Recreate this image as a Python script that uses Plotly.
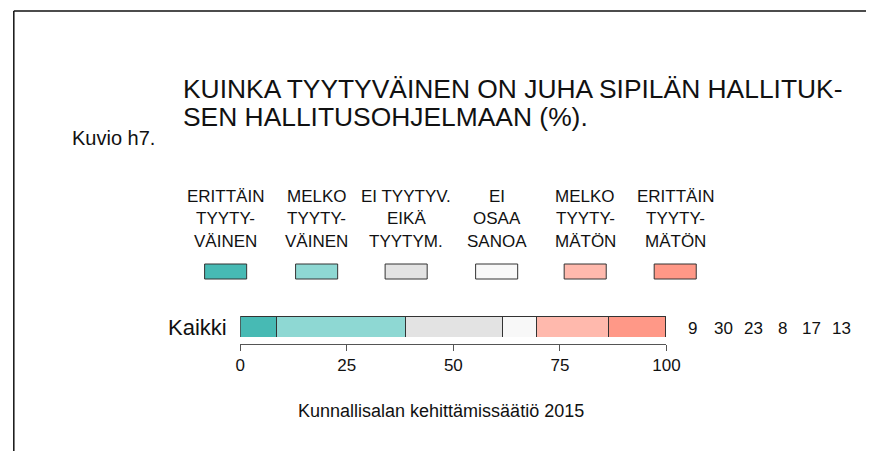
import plotly.graph_objects as go

W, H = 880, 451

categories = ["ERITTÄIN|TYYTY-|VÄINEN", "MELKO|TYYTY-|VÄINEN", "EI TYYTYV.|EIKÄ|TYYTYM.",
              "EI|OSAA|SANOA", "MELKO|TYYTY-|MÄTÖN", "ERITTÄIN|TYYTY-|MÄTÖN"]
values = [8.6, 30.1, 22.9, 7.9, 16.9, 13.3]
value_labels = ["9", "30", "23", "8", "17", "13"]
colors = ["#47BAB4", "#8ED8D3", "#E3E3E3", "#F8F8F8", "#FFB9AD", "#FF9887"]
row_label = "Kaikki"
tick_vals = [0, 25, 50, 75, 100]
title_lines = ["KUINKA TYYTYVÄINEN ON JUHA SIPILÄN HALLITUK-", "SEN HALLITUSOHJELMAAN (%)."]
figure_no = "Kuvio h7."
source = "Kunnallisalan kehittämissäätiö 2015"

FONT = "Liberation Sans, Arial, Helvetica, sans-serif"
TXT = "#111111"

def px(x):
    return x / W

def py(y):
    return 1 - y / H

fig = go.Figure()
for cat, v, c in zip(categories, values, colors):
    fig.add_trace(go.Bar(
        x=[v], y=[0], orientation="h", width=1,
        marker=dict(color=c, line=dict(color="#333333", width=1)),
        name=cat.replace("|", " "), showlegend=False, hoverinfo="x",
    ))

fig.update_layout(
    barmode="stack",
    width=W, height=H, autosize=False,
    margin=dict(l=0, r=0, t=0, b=0, pad=0),
    paper_bgcolor="white", plot_bgcolor="white",
    xaxis=dict(domain=[px(240.5), px(676)], range=[0, 100], anchor="free", position=py(344),
               showgrid=False, zeroline=False, showline=True, linecolor="#555555", linewidth=1,
               ticks="outside", ticklen=6, tickcolor="#555555", tickvals=tick_vals,
               ticktext=[str(t) for t in tick_vals],
               tickfont=dict(family=FONT, size=17, color=TXT)),
    yaxis=dict(domain=[py(337), py(316)], range=[-0.5, 0.5], visible=False, fixedrange=True),
)

ann = []
ann.append(dict(x=px(66), y=py(138), text=figure_no, xanchor="left", yanchor="middle",
                font=dict(family=FONT, size=20, color=TXT)))
for i, line in enumerate(title_lines):
    ann.append(dict(x=px(180), y=py(89 + 28 * i), text=line, xanchor="left", yanchor="middle",
                    font=dict(family=FONT, size=26.4, color=TXT)))
centers = [225.5, 318.5, 410, 502.5, 593, 685]
shapes = []
for cx, cat, c in zip(centers, categories, colors):
    for j, line in enumerate(cat.split("|")):
        ann.append(dict(x=px(cx), y=py(196 + 22.5 * j), text=line, xanchor="center", yanchor="middle",
                        font=dict(family=FONT, size=17, color=TXT)))
    shapes.append(dict(type="rect", xref="paper", yref="paper",
                       x0=px(cx - 21.5), x1=px(cx + 21.5), y0=py(279), y1=py(264),
                       fillcolor=c, line=dict(color="#333333", width=1)))
ann.append(dict(x=px(229), y=py(327), text=row_label, xanchor="right", yanchor="middle",
                font=dict(family=FONT, size=22, color=TXT)))
label_centers = [703, 734, 765, 795, 824, 855]
for lx, lab in zip(label_centers, value_labels):
    ann.append(dict(x=px(lx), y=py(328), text=lab, xanchor="center", yanchor="middle",
                    font=dict(family=FONT, size=17, color=TXT)))
ann.append(dict(x=px(446), y=py(411), text=source, xanchor="center", yanchor="middle",
                font=dict(family=FONT, size=18, color=TXT)))
for a in ann:
    a.update(xref="paper", yref="paper", showarrow=False)

shapes.append(dict(type="line", xref="paper", yref="paper", x0=px(9), x1=1, y0=py(11), y1=py(11),
                   line=dict(color="#111111", width=1.5)))
shapes.append(dict(type="line", xref="paper", yref="paper", x0=px(9), x1=px(9), y0=py(11), y1=0,
                   line=dict(color="#111111", width=1.5)))

fig.update_layout(annotations=ann, shapes=shapes)
fig.write_html("out.html", config={"displayModeBar": False, "responsive": False},
               post_script="document.body.style.margin='0px';document.body.style.overflow='hidden';")
